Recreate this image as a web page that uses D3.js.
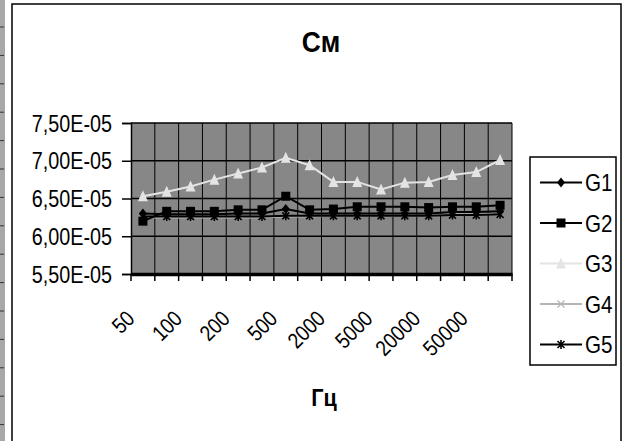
<!DOCTYPE html>
<html><head><meta charset="utf-8">
<script src="https://cdn.jsdelivr.net/npm/d3@7"></script>
<style>html,body{margin:0;padding:0;background:#fff;}svg{display:block;}</style>
</head><body>
<svg id="chart" width="624" height="441"></svg>
<script>
const categories = ["50","70","100","150","200","300","500","1000","2000","3000","5000","10000","20000","30000","50000","100000"];
const G1 = [6.30e-5,6.29e-5,6.29e-5,6.29e-5,6.30e-5,6.30e-5,6.36e-5,6.30e-5,6.30e-5,6.30e-5,6.30e-5,6.30e-5,6.30e-5,6.32e-5,6.32e-5,6.33e-5];
const G2 = [6.20e-5,6.33e-5,6.33e-5,6.33e-5,6.35e-5,6.35e-5,6.53e-5,6.35e-5,6.36e-5,6.39e-5,6.39e-5,6.39e-5,6.38e-5,6.39e-5,6.39e-5,6.41e-5];
const G3 = [6.53e-5,6.59e-5,6.66e-5,6.75e-5,6.83e-5,6.91e-5,7.04e-5,6.94e-5,6.72e-5,6.72e-5,6.62e-5,6.71e-5,6.72e-5,6.81e-5,6.85e-5,7.01e-5];
const G4 = [6.25e-5,6.25e-5,6.25e-5,6.25e-5,6.25e-5,6.25e-5,6.26e-5,6.26e-5,6.27e-5,6.27e-5,6.27e-5,6.27e-5,6.27e-5,6.29e-5,6.29e-5,6.30e-5];
const G5 = [6.26e-5,6.26e-5,6.26e-5,6.26e-5,6.26e-5,6.26e-5,6.27e-5,6.27e-5,6.27e-5,6.27e-5,6.27e-5,6.27e-5,6.27e-5,6.28e-5,6.28e-5,6.29e-5];
const seriesNames = ["G1","G2","G3","G4","G5"];
const yTicks = [5.5e-5, 6.0e-5, 6.5e-5, 7.0e-5, 7.5e-5];
const xLabelEvery = 2;
const title = "См";
const xTitle = "Гц";

const series = [
  {name: seriesNames[0], values: G1, color: "#000", mk: "diamond", ms: 8, lw: 2},
  {name: seriesNames[1], values: G2, color: "#000", mk: "square", ms: 9, lw: 2},
  {name: seriesNames[2], values: G3, color: "#e4e4e4", mk: "triangle", ms: 10, lw: 2},
  {name: seriesNames[3], values: G4, color: "#b4b4b4", mk: "x", ms: 7, lw: 2},
  {name: seriesNames[4], values: G5, color: "#000", mk: "star", ms: 7, lw: 2}
];

const svg = d3.select("#chart");
const FONT = "'Liberation Sans', Arial, sans-serif";

// left spreadsheet strip
svg.append("rect").attr("x",0).attr("y",0).attr("width",5).attr("height",441).attr("fill","#a8a8a8");
d3.range(27, 441, 28.4).forEach(yy => {
  svg.append("line").attr("x1",0).attr("x2",4).attr("y1",yy).attr("y2",yy).attr("stroke","#333").attr("stroke-width",1);
});
// chart area border
svg.append("rect").attr("x",12).attr("y",4).attr("width",609).attr("height",450)
  .attr("fill","#fff").attr("stroke","#000").attr("stroke-width",1.5);

const L = 131, R = 512, T = 123, B = 274;
const x = d3.scaleBand().domain(categories).range([L, R]).padding(0);
const y = d3.scaleLinear().domain([5.5e-5, 7.5e-5]).range([B, T]);
const cx = c => x(c) + x.bandwidth()/2;

// plot background
svg.append("rect").attr("x",L).attr("y",T).attr("width",R-L).attr("height",B-T).attr("fill","#878787");

// vertical gridlines at category boundaries
categories.slice(1).forEach(c => {
  svg.append("line").attr("x1",x(c)).attr("x2",x(c)).attr("y1",T).attr("y2",B)
    .attr("stroke","#000").attr("stroke-width",1);
});
// horizontal gridlines
yTicks.forEach(v => {
  svg.append("line").attr("x1",L).attr("x2",R).attr("y1",y(v)).attr("y2",y(v))
    .attr("stroke","#000").attr("stroke-width",1.5);
});
svg.append("line").attr("x1",R).attr("x2",R).attr("y1",T).attr("y2",B).attr("stroke","#000").attr("stroke-width",1);

function txt(g, s, px, py, opts) {
  return g.append("text")
    .attr("transform", `translate(${px},${py})` + (opts.rot ? ` rotate(${opts.rot})` : "") + ` scale(${opts.sx},1)`)
    .attr("font-family", FONT).attr("font-size", opts.size)
    .attr("font-weight", opts.bold ? "bold" : "normal")
    .attr("text-anchor", opts.anchor || "start").attr("fill","#000").text(s);
}

// y axis
const yAxis = d3.axisLeft(y).tickValues(yTicks).tickSize(9).tickPadding(10)
  .tickFormat(v => (v*1e5).toFixed(2).replace(".", ",") + "E-05");
const gy = svg.append("g").attr("transform",`translate(${L},0)`).call(yAxis);
gy.select(".domain").attr("stroke","#000").attr("stroke-width",1.5);
gy.selectAll(".tick line").attr("stroke","#000").attr("stroke-width",1.5);
gy.selectAll(".tick text").each(function(){
  const sel = d3.select(this);
  const s = sel.text();
  const p = d3.select(this.parentNode);
  sel.remove();
  txt(p, s, -19, 8, {size: 23, sx: 0.86, anchor: "end"});
});

// x axis
const xAxis = d3.axisBottom(x).tickSize(0).tickFormat("");
const gx = svg.append("g").attr("transform",`translate(0,${B})`).call(xAxis);
gx.select(".domain").attr("stroke","#000").attr("stroke-width",3.5);
categories.concat([null]).forEach(c => {
  const xx = c === null ? R : x(c);
  gx.append("line").attr("x1",xx).attr("x2",xx).attr("y1",0).attr("y2",7).attr("stroke","#000").attr("stroke-width",1.5);
});
categories.forEach((c,i) => {
  if (i % xLabelEvery === 0) txt(svg, c, cx(c) - 7, 320, {size: 22, sx: 0.86, anchor: "end", rot: -45});
});

// symbols
function marker(g, type, px, py, s, color) {
  if (type === "diamond") {
    g.append("path").attr("d", `M${px},${py-s/2-1}L${px+s/2},${py}L${px},${py+s/2+1}L${px-s/2},${py}Z`).attr("fill",color);
  } else if (type === "square") {
    g.append("rect").attr("x",px-s/2).attr("y",py-s/2).attr("width",s).attr("height",s).attr("fill",color);
  } else if (type === "triangle") {
    g.append("path").attr("d", `M${px},${py-s/2-1}L${px+s/2},${py+s/2}L${px-s/2},${py+s/2}Z`).attr("fill",color);
  } else if (type === "x") {
    const h = s/2;
    g.append("path").attr("d", `M${px-h},${py-h}L${px+h},${py+h}M${px-h},${py+h}L${px+h},${py-h}`)
      .attr("stroke",color).attr("stroke-width",1.2).attr("fill","none");
  } else if (type === "star") {
    const h = s/2;
    g.append("path").attr("d", `M${px-h},${py-h}L${px+h},${py+h}M${px-h},${py+h}L${px+h},${py-h}M${px},${py-h-1}L${px},${py+h+1}`)
      .attr("stroke",color).attr("stroke-width",1.6).attr("fill","none");
  }
}

const line = d3.line().x((d,i) => cx(categories[i])).y(d => y(d));
const gs = svg.append("g");
[2,3,4,0,1].forEach(k => {
  const s = series[k];
  gs.append("path").attr("d", line(s.values)).attr("fill","none").attr("stroke",s.color).attr("stroke-width",s.lw);
  s.values.forEach((v,i) => marker(gs, s.mk, cx(categories[i]), y(v), s.ms, s.color));
});

// titles
txt(svg, title, 321, 52, {size: 30, sx: 0.88, bold: true, anchor: "middle"});
txt(svg, xTitle, 324, 406, {size: 24, sx: 0.9, bold: true, anchor: "middle"});

// legend
const lg = svg.append("g");
lg.append("rect").attr("x",530).attr("y",157).attr("width",86).attr("height",208)
  .attr("fill","#fff").attr("stroke","#000").attr("stroke-width",1.5);
series.forEach((s,i) => {
  const ly = 182.5 + i*40.5;
  lg.append("line").attr("x1",540).attr("x2",582).attr("y1",ly).attr("y2",ly).attr("stroke",s.color).attr("stroke-width",2);
  marker(lg, s.mk, 561, ly, s.ms, s.color);
  txt(lg, s.name, 585, ly + 8.5, {size: 24, sx: 0.86});
});
</script>
</body></html>
